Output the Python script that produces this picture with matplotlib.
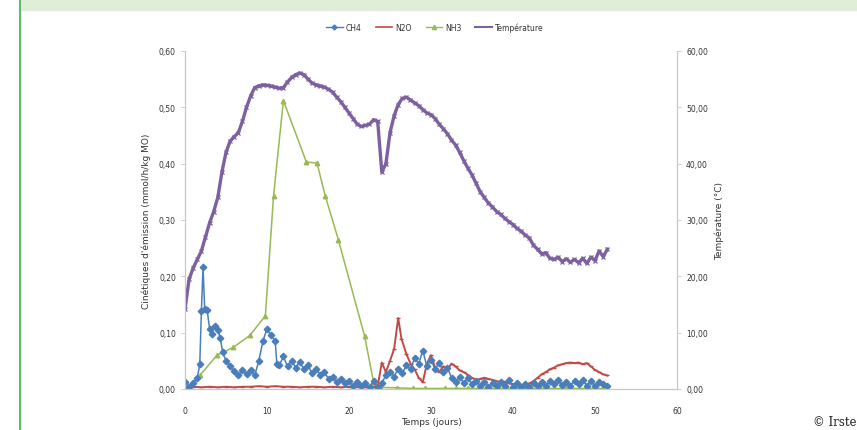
import matplotlib
matplotlib.use("Agg")
import matplotlib.pyplot as plt
from matplotlib.patches import Rectangle
from matplotlib.lines import Line2D
from matplotlib.ticker import FuncFormatter

# Temperature (deg C), every half day
temp_t = [i * 0.5 for i in range(104)]
temp = [14.2, 19.5, 21.5, 23.0, 24.5, 27.0, 29.5, 31.5, 34.0, 38.5,
        42.0, 44.0, 44.8, 45.5, 47.5, 50.0, 52.0, 53.5, 53.8, 54.0,
        53.9, 53.8, 53.6, 53.4, 53.5, 54.5, 55.3, 55.8, 56.1, 55.8,
        55.0, 54.3, 54.0, 53.8, 53.6, 53.2, 52.7, 51.8, 51.0, 50.0,
        49.0, 48.0, 47.0, 46.6, 46.8, 47.0, 47.8, 47.5, 38.5, 40.0,
        45.5, 48.5, 50.5, 51.6, 51.8, 51.3, 50.8, 50.3, 49.6, 49.0,
        48.7, 48.0, 47.0, 46.2, 45.3, 44.2, 43.3, 42.0, 40.5, 39.2,
        38.0, 36.5, 35.0, 34.0, 33.0, 32.3, 31.5, 31.0, 30.3, 29.7,
        29.2, 28.5, 28.0, 27.3, 26.8, 25.5, 24.8, 24.0, 24.2, 23.2,
        23.0, 23.4, 22.6, 23.1, 22.5, 23.0, 22.4, 23.2, 22.3, 23.4,
        22.8, 24.5, 23.5, 24.8]

ch4_t = [0.0, 0.5, 1.0, 1.5, 1.8, 2.0, 2.2, 2.4, 2.7, 3.0, 3.3, 3.6, 4.0, 4.3, 4.6,
         5.0, 5.5, 6.0, 6.5, 7.0, 7.5, 8.0, 8.5, 9.0, 9.5, 10.0, 10.5, 11.0, 11.2, 11.5,
         12.0, 12.5, 13.0, 13.5, 14.0, 14.5, 15.0, 15.5, 16.0, 16.5, 17.0, 17.5, 18.0,
         18.5, 19.0, 19.5, 20.0, 20.5, 21.0, 21.5, 22.0, 22.5, 23.0, 23.5, 24.0, 24.5,
         25.0, 25.5, 26.0, 26.5, 27.0, 27.5, 28.0, 28.5, 29.0, 29.5, 30.0, 30.5, 31.0,
         31.5, 32.0, 32.5, 33.0, 33.5, 34.0, 34.5, 35.0, 35.5, 36.0, 36.5, 37.0, 37.5,
         38.0, 38.5, 39.0, 39.5, 40.0, 40.5, 41.0, 41.5, 42.0, 42.5, 43.0, 43.5, 44.0,
         44.5, 45.0, 45.5, 46.0, 46.5, 47.0, 47.5, 48.0, 48.5, 49.0, 49.5, 50.0, 50.5,
         51.0, 51.5]
ch4 = [0.012, 0.004, 0.010, 0.020, 0.044, 0.138, 0.216, 0.142, 0.140, 0.107, 0.098,
       0.112, 0.105, 0.090, 0.065, 0.050, 0.040, 0.032, 0.024, 0.033, 0.027, 0.033,
       0.024, 0.050, 0.085, 0.107, 0.095, 0.085, 0.045, 0.042, 0.058, 0.040, 0.050,
       0.038, 0.048, 0.035, 0.042, 0.028, 0.036, 0.025, 0.030, 0.018, 0.022, 0.012,
       0.018, 0.010, 0.014, 0.006, 0.012, 0.005, 0.010, 0.004, 0.014, 0.002, 0.010,
       0.025, 0.030, 0.022, 0.036, 0.028, 0.042, 0.035, 0.055, 0.045, 0.068, 0.040,
       0.052, 0.035, 0.047, 0.030, 0.038, 0.020, 0.012, 0.022, 0.010, 0.020, 0.008,
       0.014, 0.006, 0.012, 0.004, 0.010, 0.005, 0.012, 0.006, 0.016, 0.004, 0.010,
       0.003, 0.008, 0.004, 0.010, 0.005, 0.012, 0.006, 0.014, 0.008, 0.016, 0.007,
       0.013, 0.006, 0.015, 0.008, 0.016, 0.006, 0.014, 0.005, 0.012, 0.008, 0.006]

n2o_t = [0, 1, 2, 3, 4, 5, 6, 7, 8, 9, 10, 11, 12, 13, 14, 15, 16, 17, 18, 19, 20,
         21, 22, 23, 23.5, 24.0, 24.5, 25.0, 25.5, 26.0, 26.4, 27.0, 27.5, 28.0, 28.5,
         29.0, 29.5, 30.0, 30.5, 31.0, 31.5, 32.0, 32.5, 33.0, 33.5, 34.0, 34.5, 35.0,
         35.5, 36.0, 36.5, 37.0, 37.5, 38.0, 38.5, 39.0, 39.5, 40.0, 40.5, 41.0, 41.5,
         42.0, 42.5, 43.0, 43.5, 44.0, 44.5, 45.0, 45.5, 46.0, 46.5, 47.0, 47.5, 48.0,
         48.5, 49.0, 49.5, 50.0, 50.5, 51.0, 51.5]
n2o = [0.000, 0.004, 0.003, 0.004, 0.003, 0.004, 0.003, 0.004, 0.004, 0.005, 0.004,
       0.005, 0.004, 0.004, 0.003, 0.004, 0.004, 0.003, 0.004, 0.003, 0.004, 0.004,
       0.003, 0.004, 0.005, 0.047, 0.030, 0.050, 0.071, 0.126, 0.089, 0.062, 0.045,
       0.035, 0.020, 0.012, 0.045, 0.060, 0.038, 0.030, 0.040, 0.035, 0.045, 0.040,
       0.033, 0.030, 0.025, 0.020, 0.016, 0.018, 0.020, 0.018, 0.016, 0.014, 0.012,
       0.013, 0.010, 0.009, 0.008, 0.007, 0.006, 0.010, 0.014, 0.020, 0.026, 0.030,
       0.035, 0.038, 0.042, 0.044, 0.046, 0.047, 0.046, 0.047, 0.044, 0.046, 0.040,
       0.034, 0.030, 0.026, 0.024]

nh3_t = [0.0, 1.8, 3.9, 5.9, 7.9, 9.8, 10.8, 12.0, 14.8, 16.1, 17.1, 18.7, 21.9, 23.0,
         23.8, 25.9, 27.8, 29.3, 31.7, 33.0, 34.5, 36.0, 38.2, 40.6, 42.2, 43.8, 46.3,
         49.1, 51.0]
nh3 = [0.000, 0.024, 0.060, 0.074, 0.095, 0.130, 0.343, 0.512, 0.403, 0.401, 0.343,
       0.265, 0.094, 0.012, 0.003, 0.002, 0.001, 0.001, 0.001, 0.001, 0.001, 0.001,
       0.001, 0.001, 0.001, 0.001, 0.001, 0.001, 0.001]

c_ch4 = "#4a7ebb"
c_n2o = "#be4b48"
c_nh3 = "#98b954"
c_temp = "#7d60a0"
tick_col = "#333333"

fig = plt.figure(figsize=(8.57, 4.31), dpi=100)

# page decorations around the chart image
fig.patches.append(Rectangle((20 / 857, 1 - 11 / 431), 1, 11 / 431,
                             transform=fig.transFigure, color="#e0edd8", zorder=0))
fig.lines.append(Line2D([19.5 / 857, 19.5 / 857], [0, 1], transform=fig.transFigure,
                        color="#5dbb6a", lw=1.5))
fig.text(0.999, 0.004, "\u00a9 Irste", fontsize=8.5, family="DejaVu Serif",
         color="#222222", va="bottom", ha="right")

ax = fig.add_axes([185 / 857, 1 - 390 / 431, 492 / 857, 338 / 431])
ax2 = ax.twinx()

ax2.plot(temp_t, temp, color=c_temp, lw=2.4, marker="x", ms=3, mew=0.9,
         label="Température")
ax.plot(nh3_t, nh3, color=c_nh3, lw=1.1, marker="^", ms=3.2, label="NH3")
ax.plot(n2o_t, n2o, color=c_n2o, lw=1.4, marker="_", ms=3, label="N2O")
ax.plot(ch4_t, ch4, color=c_ch4, lw=1.1, marker="D", ms=3.3, label="CH4")

ax.set_zorder(ax2.get_zorder() + 1)
ax.patch.set_visible(False)

ax.set_xlim(0, 60)
ax.set_ylim(0, 0.6)
ax2.set_ylim(0, 60)
ax.set_xticks(range(0, 61, 10))
ax.set_yticks([0, 0.1, 0.2, 0.3, 0.4, 0.5, 0.6])
ax2.set_yticks(range(0, 61, 10))
ax.yaxis.set_major_formatter(FuncFormatter(lambda v, p: f"{v:.2f}".replace(".", ",")))
ax2.yaxis.set_major_formatter(FuncFormatter(lambda v, p: f"{v:.2f}".replace(".", ",")))

for a in (ax, ax2):
    for s in a.spines.values():
        s.set_color("#c8c8c8")
        s.set_linewidth(0.8)
    a.spines["top"].set_visible(False)
    a.tick_params(labelsize=5.5, colors="#c8c8c8", labelcolor=tick_col,
                  length=3, width=0.6)
ax.tick_params(axis="x", length=0, pad=12)

ax.set_xlabel("Temps (jours)", fontsize=6.5, color=tick_col, labelpad=2)
ax.set_ylabel("Cinétiques d'émission (mmol/h/kg MO)", fontsize=6.5, color=tick_col,
              labelpad=6)
ax2.set_ylabel("Température (°C)", fontsize=6.5, color=tick_col, labelpad=5)

handles = [Line2D([], [], color=c_ch4, marker="D", ms=2.5, lw=1),
           Line2D([], [], color=c_n2o, lw=1.2),
           Line2D([], [], color=c_nh3, marker="^", ms=3, lw=1),
           Line2D([], [], color=c_temp, lw=1.5)]
fig.legend(handles, ["CH4", "N2O", "NH3", "Température"], loc="center",
           bbox_to_anchor=(435 / 857, 1 - 28 / 431), ncol=4, frameon=False,
           fontsize=5.5, handlelength=2.2, columnspacing=1.8, handletextpad=0.4,
           labelcolor=tick_col)

fig.savefig("out.png", dpi=100)
